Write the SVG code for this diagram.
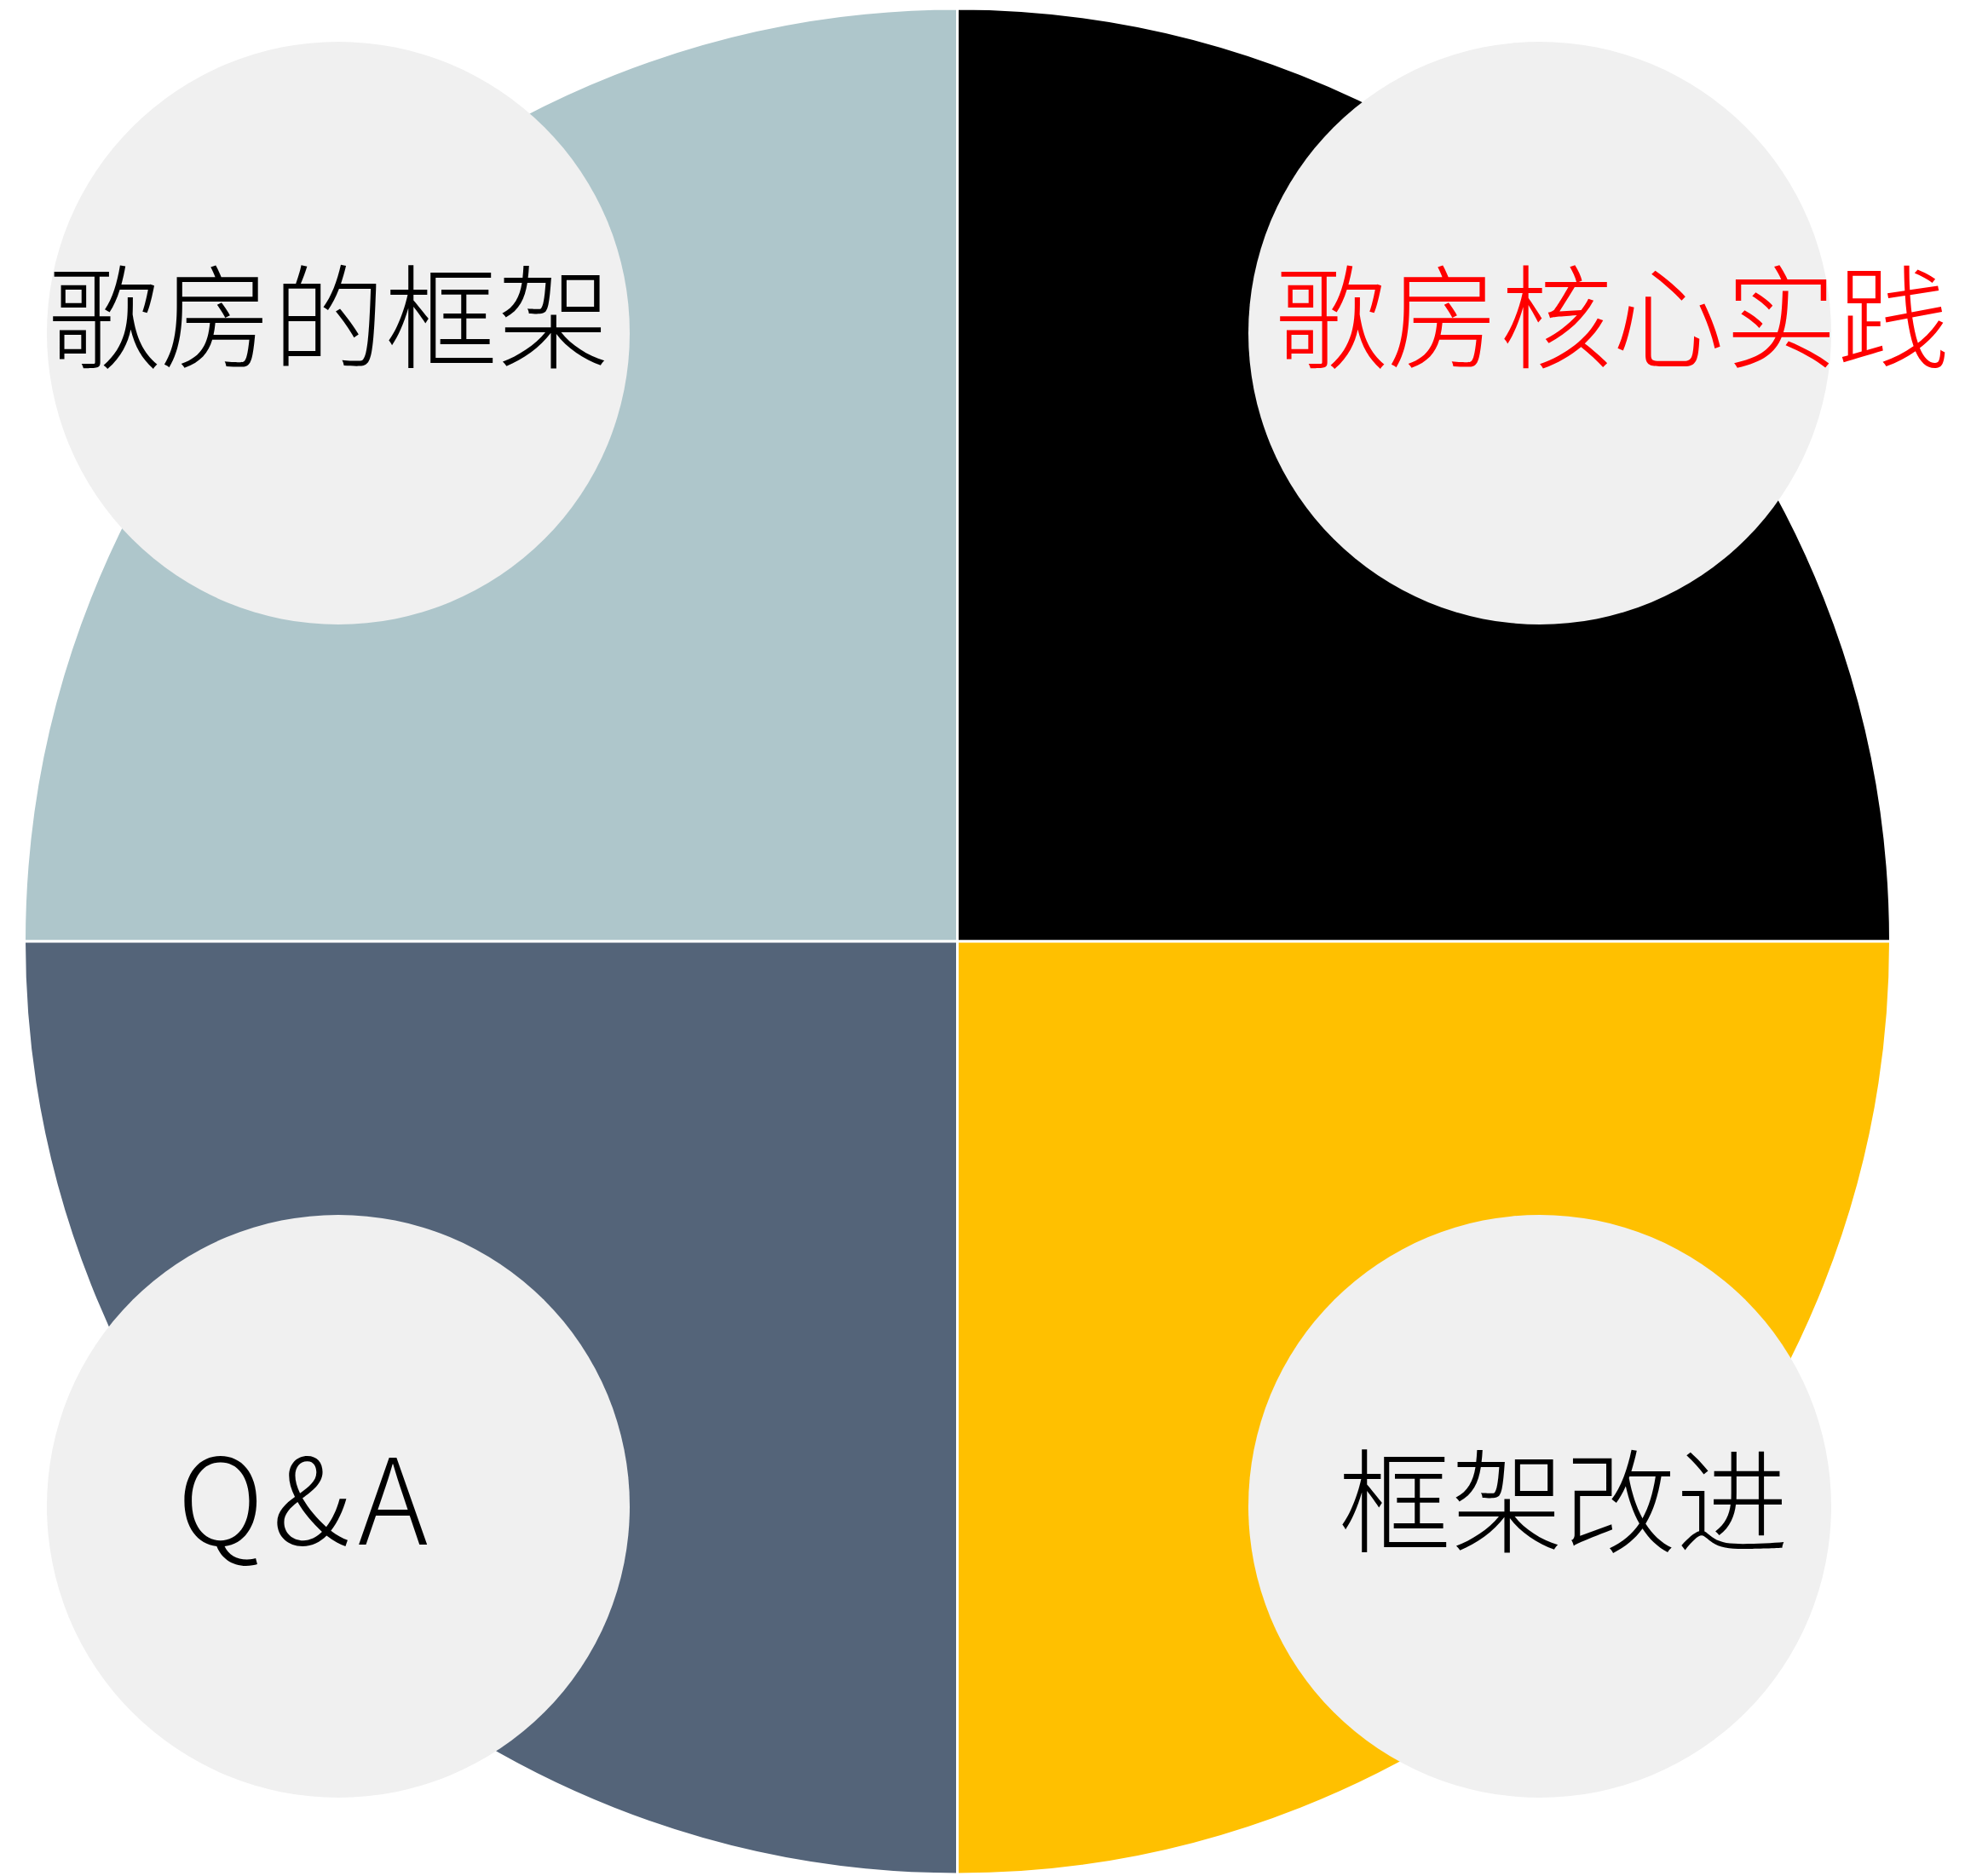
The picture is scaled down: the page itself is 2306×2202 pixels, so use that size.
<svg xmlns="http://www.w3.org/2000/svg" width="2306" height="2202" viewBox="0 0 2306 2202">
<style>
.q{stroke:#ffffff;stroke-width:3}
.bub{fill:#f0f0f0}
.t{font-family:"Noto Sans CJK SC","Noto Sans",sans-serif;font-size:132px;font-weight:300}
.lat{font-size:140px;letter-spacing:10px}
</style>
<rect width="2306" height="2202" fill="#ffffff"/>
<g id="quadrants">
<path id="q-tl" class="q" fill="#aec6cb" d="M1123.5,1105 L28.5,1105 A1095,1095 0 0 1 1123.5,10 Z"/>
<path id="q-tr" class="q" fill="#000000" d="M1123.5,1105 L1123.5,10 A1095,1095 0 0 1 2218.5,1105 Z"/>
<path id="q-br" class="q" fill="#ffc000" d="M1123.5,1105 L2218.5,1105 A1095,1095 0 0 1 1123.5,2200 Z"/>
<path id="q-bl" class="q" fill="#546479" d="M1123.5,1105 L1123.5,2200 A1095,1095 0 0 1 28.5,1105 Z"/>
</g>
<g id="node-tl">
<circle class="bub" cx="397" cy="391" r="342"/>
<text class="t" x="56" y="422" fill="#000000">歌房的框架</text>
</g>
<g id="node-tr">
<circle class="bub" cx="1807" cy="391" r="342"/>
<text class="t" x="1496" y="422" fill="#ff0000">歌房核心实践</text>
</g>
<g id="node-bl">
<circle class="bub" cx="397" cy="1768" r="342"/>
<text class="t lat" x="208" y="1813" fill="#000000">Q&amp;A</text>
</g>
<g id="node-br">
<circle class="bub" cx="1807" cy="1768" r="342"/>
<text class="t" x="1571" y="1812" fill="#000000">框架改进</text>
</g>
</svg>
